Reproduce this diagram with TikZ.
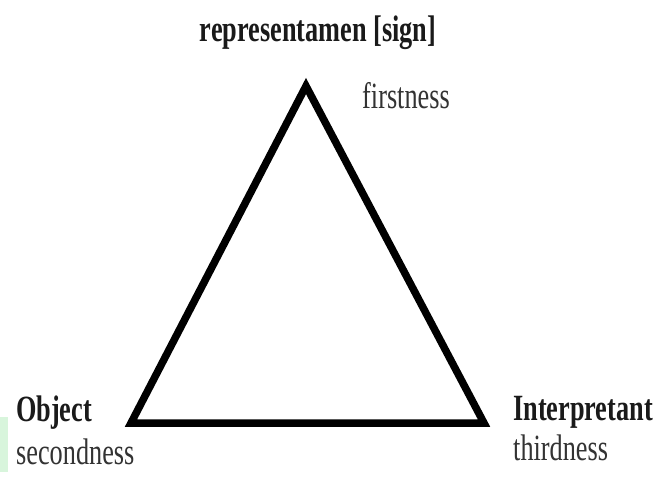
\documentclass[tikz,border=0pt]{standalone}
\usepackage{fontspec}
\setmainfont{Liberation Serif}[FakeStretch=0.71]
\usepackage{xcolor}
\definecolor{inkdark}{HTML}{1A1A1A}
\definecolor{inkgray}{HTML}{333333}
\definecolor{mintbar}{HTML}{D8F5DC}

\begin{document}
\begin{tikzpicture}[
  x=1pt,y=-1pt,
  lbl/.style={inner sep=0pt,anchor=base west,text=inkgray,font=\fontsize{37}{40}\selectfont},
  lblbold/.style={lbl,text=inkdark,font=\fontsize{37}{40}\selectfont\bfseries},
  side/.style={line width=7.5pt,line join=miter,draw=black}
]
  \fill[white] (0,0) rectangle (656,482);
  \useasboundingbox (0,0) rectangle (656,482);
  \fill[mintbar] (0,417) rectangle (8,472);
  \coordinate (apex) at (306,86);
  \coordinate (left) at (131,423);
  \coordinate (right) at (484,423);
  \draw[side] (apex)--(right)--(left)--cycle;
  \node[lblbold,anchor=base] (sign) at (318,41) {representamen [sign]};
  \node[lbl] (first) at (362,108) {firstness};
  \node[lblbold] (object) at (16,421) {Object};
  \node[lbl] (second) at (16,464) {secondness};
  \node[lblbold] (interp) at (513,420) {Interpretant};
  \node[lbl] (third) at (513,460) {thirdness};
\end{tikzpicture}
\end{document}
